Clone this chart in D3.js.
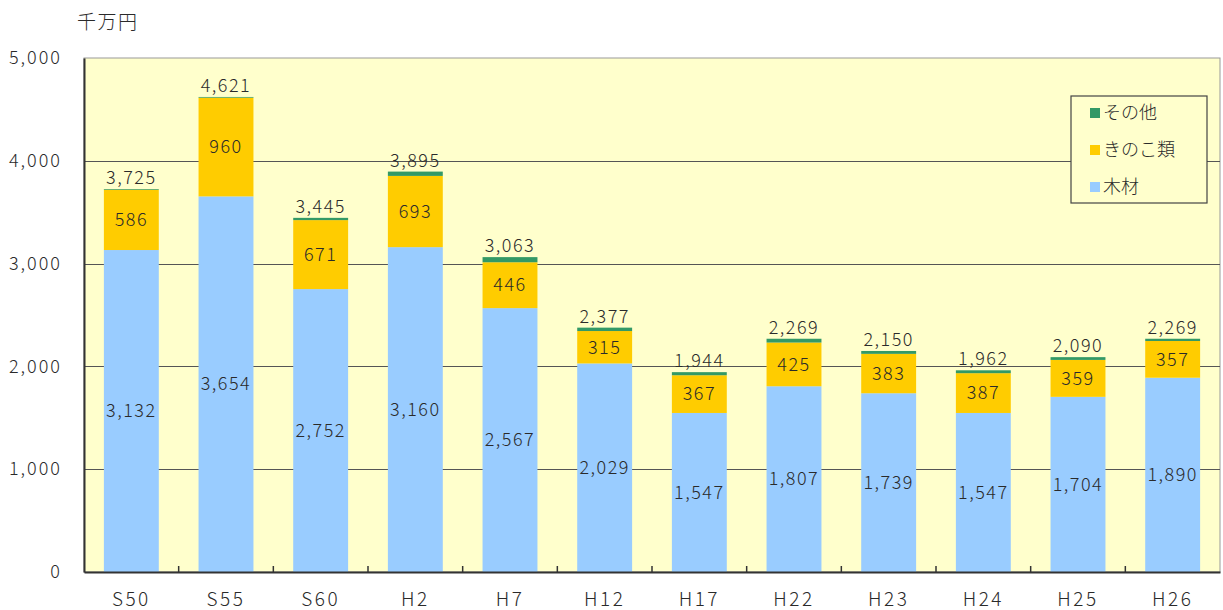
<!DOCTYPE html>
<html>
<head>
<meta charset="utf-8">
<script src="https://cdn.jsdelivr.net/npm/d3@7"></script>
<style>
  body { margin: 0; background: #fff; }
  text { font-family: "Noto Sans CJK JP", "Noto Sans", sans-serif; fill: #2a2a2a; font-weight: 300; letter-spacing: 1.5px; }
</style>
</head>
<body>
<svg id="chart" width="1223" height="610"></svg>
<script>
// data, 千万円
const years = ['S50', 'S55', 'S60', 'H2', 'H7', 'H12', 'H17', 'H22', 'H23', 'H24', 'H25', 'H26'];
const mokuzai = [3132, 3654, 2752, 3160, 2567, 2029, 1547, 1807, 1739, 1547, 1704, 1890];
const kinoko = [586, 960, 671, 693, 446, 315, 367, 425, 383, 387, 359, 357];
const totals = [3725, 4621, 3445, 3895, 3063, 2377, 1944, 2269, 2150, 1962, 2090, 2269];
const sonota = totals.map((t, i) => t - mokuzai[i] - kinoko[i]);
const yTicks = [0, 1000, 2000, 3000, 4000, 5000];

const seriesNames = ['木材', 'きのこ類', 'その他'];
const colors = ['#99CCFF', '#FFCC00', '#339966'];

const svg = d3.select('#chart');
const plotL = 84, plotR = 1220, plotT = 58, plotB = 572;

const x = d3.scaleBand()
  .domain(years)
  .range([plotL, plotR])
  .paddingInner(0.42)
  .paddingOuter(0.21);

const y = d3.scaleLinear()
  .domain([0, 5000])
  .range([plotB, plotT]);

const fmt = d3.format(',');

// plot background
svg.append('rect')
  .attr('x', plotL).attr('y', plotT)
  .attr('width', plotR - plotL).attr('height', plotB - plotT)
  .attr('fill', '#FFFFCC')
  .attr('stroke', '#999')
  .attr('stroke-width', 1);

// gridlines
svg.append('g')
  .selectAll('line')
  .data(yTicks.filter(d => d > 0 && d < 5000))
  .join('line')
    .attr('x1', plotL).attr('x2', plotR)
    .attr('y1', d => Math.round(y(d)) + 0.5)
    .attr('y2', d => Math.round(y(d)) + 0.5)
    .attr('stroke', '#555')
    .attr('stroke-width', 1.2);

// stacked bars
const rows = years.map((yr, i) => ({ year: yr, 木材: mokuzai[i], きのこ類: kinoko[i], その他: sonota[i] }));
const stacked = d3.stack().keys(seriesNames)(rows);

svg.append('g')
  .selectAll('g')
  .data(stacked)
  .join('g')
    .attr('fill', (d, i) => colors[i])
  .selectAll('rect')
  .data(d => d)
  .join('rect')
    .attr('x', d => x(d.data.year))
    .attr('width', x.bandwidth())
    .attr('y', d => y(d[1]))
    .attr('height', d => y(d[0]) - y(d[1]));

// axes
const yAxis = d3.axisLeft(y).tickValues(yTicks).tickFormat(fmt).tickSize(0).tickPadding(22);
const gy = svg.append('g')
  .attr('transform', `translate(${plotL},0)`)
  .call(yAxis);
gy.select('.domain').attr('stroke', '#333').attr('stroke-width', 2);
gy.selectAll('text').style('font-size', '18px').style('letter-spacing', '2px').attr('fill', '#2a2a2a');

const xAxis = d3.axisBottom(x).tickSize(0).tickPadding(21);
const gx = svg.append('g')
  .attr('transform', `translate(0,${plotB})`)
  .call(xAxis);
gx.select('.domain').attr('stroke', '#333').attr('stroke-width', 2);
gx.selectAll('text').style('font-size', '19px').style('letter-spacing', '2.5px').attr('fill', '#2a2a2a');

// small ticks between categories
const step = x.step();
svg.append('g')
  .selectAll('line')
  .data(years.slice(1))
  .join('line')
    .attr('x1', d => x(d) - (step - x.bandwidth()) / 2)
    .attr('x2', d => x(d) - (step - x.bandwidth()) / 2)
    .attr('y1', plotB).attr('y2', plotB - 6)
    .attr('stroke', '#333').attr('stroke-width', 1.5);

// value labels
const labels = svg.append('g').style('font-size', '18px').attr('text-anchor', 'middle');
labels.selectAll('.lm')
  .data(rows)
  .join('text')
    .attr('x', d => x(d.year) + x.bandwidth() / 2)
    .attr('y', d => y(d['木材'] / 2))
    .attr('dy', '0.35em')
    .text(d => fmt(d['木材']));
labels.selectAll('.lk')
  .data(rows)
  .join('text')
    .attr('x', d => x(d.year) + x.bandwidth() / 2)
    .attr('y', d => y(d['木材'] + d['きのこ類'] / 2))
    .attr('dy', '0.35em')
    .text(d => fmt(d['きのこ類']));
labels.selectAll('.lt')
  .data(totals)
  .join('text')
    .attr('x', (d, i) => x(years[i]) + x.bandwidth() / 2)
    .attr('y', d => y(d) - 5)
    .text(d => fmt(d));

// unit
svg.append('text')
  .attr('x', 77).attr('y', 29)
  .style('font-size', '19px')
  .text('千万円');

// legend
const legend = svg.append('g');
legend.append('rect')
  .attr('x', 1071).attr('y', 96)
  .attr('width', 136).attr('height', 107)
  .attr('fill', '#FFFFCC')
  .attr('stroke', '#444').attr('stroke-width', 1.2);
const legendItems = seriesNames.map((n, i) => ({ name: n, color: colors[i] })).reverse();
const li = legend.selectAll('g')
  .data(legendItems)
  .join('g')
    .attr('transform', (d, i) => `translate(1090,${113 + i * 37})`);
li.append('rect')
  .attr('x', 0).attr('y', -5)
  .attr('width', 10).attr('height', 10)
  .attr('fill', d => d.color);
li.append('text')
  .attr('x', 13).attr('dy', '0.35em')
  .style('font-size', '18px')
  .style('letter-spacing', '0px')
  .text(d => d.name);
</script>
</body>
</html>
